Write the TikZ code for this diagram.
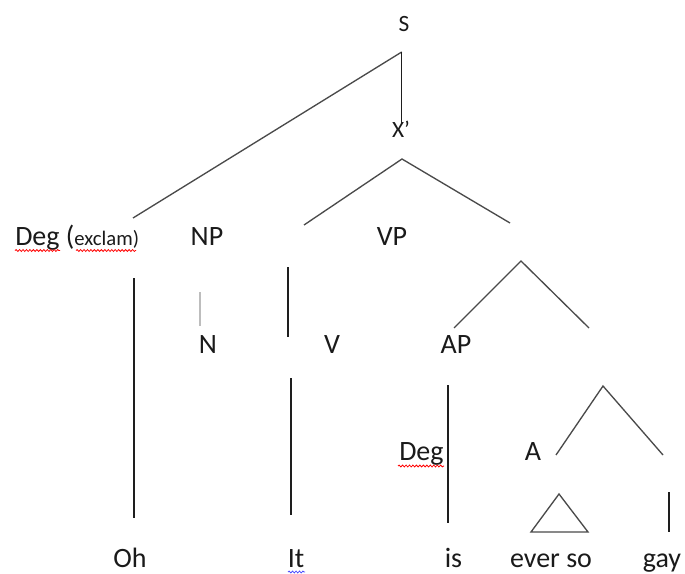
\documentclass[tikz,border=0pt]{standalone}
\usepackage{fontspec}
\setmainfont{Carlito}
\usetikzlibrary{decorations.pathmorphing}
\definecolor{slant}{HTML}{4A4A4A}
\definecolor{vert}{HTML}{1E1E1E}
\definecolor{stub}{HTML}{BDBDBD}
\definecolor{txt}{HTML}{1A1A1A}
\tikzset{
  lbl/.style={inner sep=0pt, anchor=base, text=txt, font=\fontsize{21}{24}\selectfont},
  small/.style={inner sep=0pt, anchor=base, text=txt, font=\fontsize{17.5}{20}\selectfont},
  br/.style={draw=slant, line width=1pt},
  vl/.style={draw=vert, line width=1pt},
  stubl/.style={draw=stub, line width=1pt},
  squig/.style={draw=red, line width=0.6pt, decorate, decoration={snake, amplitude=0.7pt, segment length=2.6pt}},
  squigb/.style={draw=blue!70, line width=0.6pt, decorate, decoration={snake, amplitude=0.7pt, segment length=2.6pt}}
}
\begin{document}
\begin{tikzpicture}[x=0.75pt,y=-0.75pt]
\useasboundingbox (0,0) rectangle (685,574);
% labels
\node[small] (S) at (404,32) {S};
\node[small] (Xp) at (401,138) {X’};
\node[lbl, anchor=base west] (DegEx) at (15,245) {Deg (\fontsize{15.5}{18}\selectfont exclam)};
\node[lbl] (NP) at (207,245) {NP};
\node[lbl] (VP) at (392,245) {VP};
\node[lbl] (N) at (208,353) {N};
\node[lbl] (V) at (332,353) {V};
\node[lbl] (AP) at (456,353) {AP};
\node[lbl, anchor=base west] (Deg) at (399,460) {Deg};
\node[lbl] (A) at (533,460) {A};
\node[lbl] (Oh) at (130,567) {Oh};
\node[lbl] (It) at (296,567) {It};
\node[lbl] (is) at (453.5,567) {is};
\node[lbl] (ever) at (551,567) {ever so};
\node[lbl] (gay) at (662,567) {gay};
% coordinates
\coordinate (sTop) at (401.7,52);
\coordinate (degEnd) at (133,218);
\coordinate (xTop) at (401.7,123);
\coordinate (xApex) at (402,159);
\coordinate (xL) at (304,225);
\coordinate (xR) at (510,223);
\coordinate (ohT) at (134,278);
\coordinate (ohB) at (134,518);
\coordinate (npT) at (200,292);
\coordinate (npB) at (200,326);
\coordinate (itT1) at (288,267);
\coordinate (itB1) at (288,337);
\coordinate (itT2) at (291,378);
\coordinate (itB2) at (291,515);
\coordinate (vpApex) at (521,261);
\coordinate (vpL) at (454,328);
\coordinate (vpR) at (589,328);
\coordinate (degT) at (448,385);
\coordinate (degB) at (448,523);
\coordinate (aApex) at (603,386);
\coordinate (aL) at (556,455);
\coordinate (aR) at (663,455);
\coordinate (tApex) at (559,494);
\coordinate (tL) at (531,532);
\coordinate (tR) at (588,532);
\coordinate (gT) at (669,492);
\coordinate (gB) at (669,532);
% connectors
\draw[br] (sTop) -- (degEnd);
\draw[vl] (sTop) -- (xTop);
\draw[br] (xL) -- (xApex) -- (xR);
\draw[vl] (ohT) -- (ohB);
\draw[stubl] (npT) -- (npB);
\draw[vl] (itT1) -- (itB1);
\draw[vl] (itT2) -- (itB2);
\draw[br] (vpL) -- (vpApex) -- (vpR);
\draw[vl] (degT) -- (degB);
\draw[br] (aL) -- (aApex) -- (aR);
\draw[br] (tApex) -- (tL) -- (tR) -- cycle;
\draw[vl] (gT) -- (gB);
% spelling marks
\draw[squig] (15,250.5) -- (60,250.5);
\draw[squig] (76,250.5) -- (136,250.5);
\draw[squig] (398,466) -- (444,466);
\draw[squigb] (288,572) -- (305,572);
\end{tikzpicture}
\end{document}
